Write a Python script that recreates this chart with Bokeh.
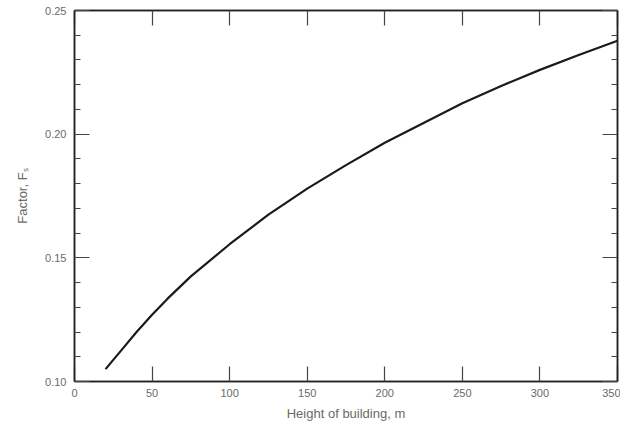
from bokeh.plotting import figure
from bokeh.models import LinearAxis, FixedTicker, Range1d, CustomJSTickFormatter
from bokeh.embed import file_html
from bokeh.resources import INLINE

# Data
height_m = [20, 30, 40, 50, 60, 75, 100, 125, 150, 175, 200, 225, 250, 275, 300, 325, 350]
factor_fs = [0.105, 0.1125, 0.120, 0.127, 0.1335, 0.1425, 0.1555, 0.1675, 0.178, 0.1875,
             0.1965, 0.2045, 0.2125, 0.2195, 0.226, 0.232, 0.2378]

x_ticks = [0, 50, 100, 150, 200, 250, 300, 350]
y_ticks = [0.10, 0.15, 0.20, 0.25]
y_minor = [0.10, 0.11, 0.12, 0.13, 0.14, 0.15, 0.16, 0.17, 0.18, 0.19,
           0.20, 0.21, 0.22, 0.23, 0.24, 0.25]

FONT = "Liberation Sans"
GRAY = "#6a6a6a"

p = figure(frame_width=543, frame_height=371,
           x_range=Range1d(0, 350), y_range=Range1d(0.10, 0.25),
           output_backend="svg", toolbar_location=None,
           min_border_left=74, min_border_top=10, min_border_right=3,
           min_border_bottom=45)

p.xgrid.visible = False
p.ygrid.visible = False
p.outline_line_color = "#222222"
p.outline_line_width = 1.5
p.background_fill_color = "white"
p.border_fill_color = "white"

p.line(height_m, factor_fs, line_color="#1a1a1a", line_width=2.2)


def style_axis(ax, show_labels=True, minor=True):
    ax.axis_line_color = "#222222"
    ax.axis_line_width = 1.5
    ax.major_tick_in = 15
    ax.major_tick_out = 0
    ax.major_tick_line_color = "#444444"
    ax.major_tick_line_width = 1.2
    ax.minor_tick_in = 6 if minor else 0
    ax.minor_tick_out = 0
    ax.minor_tick_line_color = "#444444"
    ax.minor_tick_line_width = 1.2
    ax.major_label_text_font = FONT
    ax.major_label_text_font_size = "11px"
    ax.major_label_text_color = GRAY
    ax.axis_label_text_font = FONT
    ax.axis_label_text_font_size = "13px"
    ax.axis_label_text_font_style = "normal"
    ax.axis_label_text_color = GRAY
    if not show_labels:
        ax.major_label_text_font_size = "0px"
        ax.major_label_text_alpha = 0


xb = p.xaxis[0]
xb.ticker = FixedTicker(ticks=x_ticks, minor_ticks=[])
style_axis(xb, minor=False)
xb.axis_label = "Height of building, m"
xb.major_label_standoff = 7
xb.axis_label_standoff = 6

yl = p.yaxis[0]
yl.ticker = FixedTicker(ticks=y_ticks, minor_ticks=y_minor)
style_axis(yl)
yl.formatter = CustomJSTickFormatter(code="return tick.toFixed(2);")
yl.axis_label = "Factor, F\u209b"
yl.major_label_standoff = 8
yl.axis_label_standoff = 12

xt = LinearAxis(ticker=FixedTicker(ticks=x_ticks, minor_ticks=[]))
style_axis(xt, show_labels=False, minor=False)
p.add_layout(xt, "above")

yr = LinearAxis(ticker=FixedTicker(ticks=y_ticks, minor_ticks=y_minor))
style_axis(yr, show_labels=False)
p.add_layout(yr, "right")

open("out.html", "w").write(file_html(p, INLINE))
